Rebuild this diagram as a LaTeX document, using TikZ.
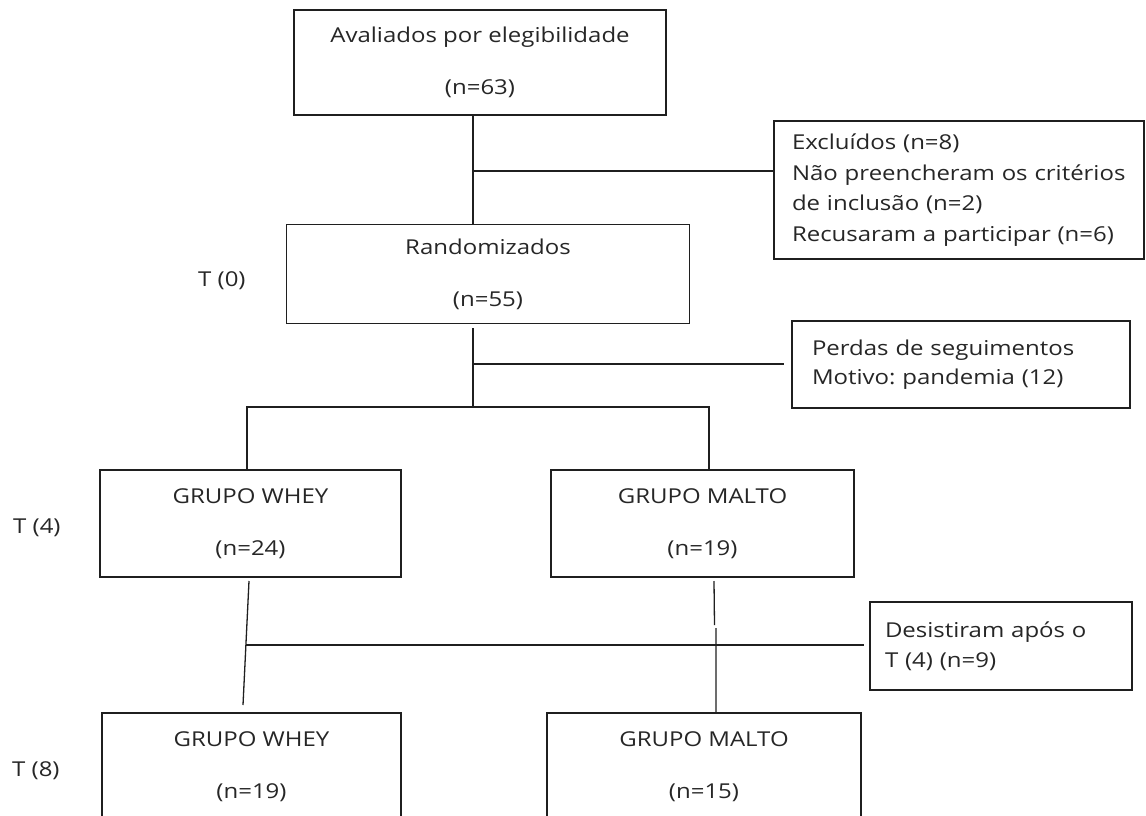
\documentclass[tikz,border=0pt]{standalone}
\usepackage{fontspec}
\setmainfont{Open Sans}[FakeStretch=1.17]
\usetikzlibrary{calc}
\begin{document}
\begin{tikzpicture}[x=1pt,y=-1pt,
  ink/.style={draw=black!88, line width=1.3pt},
  box/.style={ink, inner sep=0pt, align=center, text=black!85,
    font=\fontsize{20.5}{52}\selectfont},
  lbox/.style={ink, inner ysep=0pt, align=left, text=black!85},
  conn/.style={draw=black!88, line width=1.3pt},
  tlabel/.style={anchor=base west, inner sep=0pt, text=black!85,
    font=\fontsize{20.5}{24}\selectfont}]
\useasboundingbox (0,0) rectangle (1146,816);
\clip (0,0) rectangle (1146,816);
% main boxes
\node[box, minimum width=372pt, minimum height=105pt] (eval) at (480,62.5)
  {Avaliados por elegibilidade\\(n=63)};
\node[box, minimum width=403pt, minimum height=99pt] (rand) at (488,274)
  {Randomizados\\(n=55)};
\node[box, minimum width=301pt, minimum height=107pt] (whey1) at (250.5,523.5)
  {GRUPO WHEY\\(n=24)};
\node[box, minimum width=303pt, minimum height=107pt] (malto1) at (702.5,523.5)
  {GRUPO MALTO\\(n=19)};
\node[box, minimum width=299pt, minimum height=107pt] (whey2) at (251.5,766.5)
  {GRUPO WHEY\\(n=19)};
\node[box, minimum width=314pt, minimum height=107pt] (malto2) at (704,766.5)
  {GRUPO MALTO\\(n=15)};
% side boxes
\node[lbox, text width=334pt, inner xsep=18pt, minimum height=138pt,
  font=\fontsize{20.5}{30.5}\selectfont] (excl) at (959,190)
  {Excluídos~(n=8)\\Não~preencheram~os~critérios\\de~inclusão~(n=2)\\Recusaram~a~participar~(n=6)};
\node[lbox, text width=298pt, inner xsep=20pt, minimum height=87pt,
  font=\fontsize{20.5}{29}\selectfont] (perdas) at (961,364.5)
  {Perdas~de~seguimentos\\Motivo:~pandemia~(12)};
\node[lbox, text width=232pt, inner xsep=15pt, minimum height=88pt,
  font=\fontsize{20.5}{30}\selectfont] (desist) at (1001,646)
  {Desistiram~após~o\\T~(4)~(n=9)};
% time labels
\node[tlabel] (t0) at (198,286) {T (0)};
\node[tlabel] (t4) at (13,533) {T (4)};
\node[tlabel] (t8) at (12,776) {T (8)};
% connectors
\coordinate (jA) at (473,171);
\draw[conn] (eval.south -| jA) -- (rand.north -| jA);
\draw[conn] (jA) -- (excl.west |- jA);
\coordinate (jB) at (473,364);
\coordinate (jC) at (473,407);
\draw[conn, shorten <=4pt] (rand.south -| jC) -- (jC);
\draw[conn, shorten >=7pt] (jB) -- (perdas.west |- jB);
\coordinate (jL) at (247,407);
\coordinate (jR) at (709,407);
\draw[conn] (whey1.north -| jL) -- (jL) -- (jR) -- (malto1.north -| jR);
\coordinate (wA) at (249,581);
\coordinate (wB) at (243,705);
\coordinate (wJ) at (246,645);
\draw[conn] (wA) -- (wB);
\draw[conn, shorten >=5pt] (wJ) -- (desist.west |- wJ);
\coordinate (mA) at (714,581);
\coordinate (mB) at (714.5,625);
\coordinate (mC) at (716,628);
\draw[conn] (mA) -- (mB) (mC) -- (malto2.north -| mC);
\end{tikzpicture}
\end{document}
